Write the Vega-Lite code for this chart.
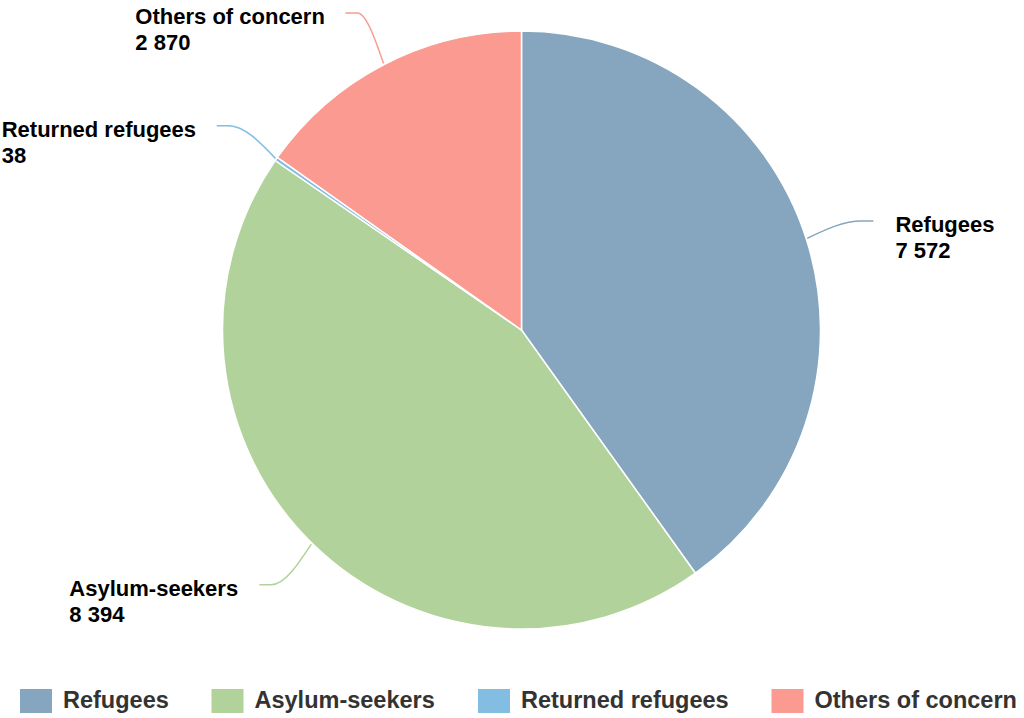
{
  "$schema": "https://vega.github.io/schema/vega-lite/v6.json",
  "width": 1005,
  "height": 660,
  "autosize": {"type": "none"},
  "padding": {"left": 19, "top": 0, "right": 0, "bottom": 58},
  "background": "white",
  "config": {"view": {"stroke": null}, "font": "Liberation Sans"},
  "data": {
    "values": [
      {"category": "Refugees", "value": 7572, "ord": 1},
      {"category": "Asylum-seekers", "value": 8394, "ord": 2},
      {"category": "Returned refugees", "value": 38, "ord": 3},
      {"category": "Others of concern", "value": 2870, "ord": 4}
    ]
  },
  "transform": [
    {"joinaggregate": [{"op": "sum", "field": "value", "as": "total"}]},
    {"window": [{"op": "sum", "field": "value", "as": "cum"}], "sort": [{"field": "ord"}], "frame": [null, 0]},
    {"calculate": "PI * (2 * datum.cum - datum.value) / datum.total", "as": "mid"},
    {"calculate": "sin(datum.mid) > 0 ? 1 : -1", "as": "side"},
    {"calculate": "357 * sin(datum.mid) + 12 * datum.side", "as": "lx"},
    {"calculate": "357 * cos(datum.mid)", "as": "ly"},
    {"calculate": "[datum.category, replace(format(datum.value, ','), ',', ' ')]", "as": "lbl"}
  ],
  "layer": [
    {
      "mark": {"type": "arc", "radius": 299, "stroke": "white", "strokeWidth": 1.5},
      "encoding": {
        "theta": {"field": "value", "type": "quantitative", "stack": true},
        "order": {"field": "ord", "type": "quantitative"},
        "color": {
          "field": "category",
          "type": "nominal",
          "scale": {
            "domain": ["Refugees", "Asylum-seekers", "Returned refugees", "Others of concern"],
            "range": ["#85A6BE", "#B1D29B", "#83BDE1", "#FA9A90"]
          },
          "legend": {
            "title": null,
            "orient": "none",
            "legendX": 1,
            "legendY": 685,
            "direction": "horizontal",
            "columns": 4,
            "symbolType": "M-1,-0.75H1V0.75H-1Z",
            "symbolSize": 1024,
            "symbolStrokeWidth": 0,
            "symbolOpacity": 1,
            "labelFontSize": 23.5,
            "labelFontWeight": "bold",
            "labelColor": "#333333",
            "labelFont": "Liberation Sans",
            "labelOffset": 11,
            "labelLimit": 400,
            "columnPadding": 42.5,
            "padding": 0
          }
        }
      }
    },
    {
      "transform": [
        {"calculate": "[0, 1, 2]", "as": "pt"},
        {"flatten": ["pt"]},
        {"calculate": "datum.pt == 0 ? 300 * sin(datum.mid) : (datum.pt == 1 ? 357 * sin(datum.mid) : datum.lx)", "as": "px"},
        {"calculate": "datum.pt == 0 ? 300 * cos(datum.mid) : (datum.pt == 1 ? 357 * cos(datum.mid) : datum.ly)", "as": "py"}
      ],
      "mark": {"type": "line", "interpolate": "monotone", "strokeWidth": 1.5},
      "encoding": {
        "x": {"field": "px", "type": "quantitative", "scale": {"domain": [-502.5, 502.5], "nice": false, "zero": false}, "axis": null},
        "y": {"field": "py", "type": "quantitative", "scale": {"domain": [-330, 330], "nice": false, "zero": false}, "axis": null},
        "stroke": {
          "field": "category",
          "type": "nominal",
          "scale": {
            "domain": ["Refugees", "Asylum-seekers", "Returned refugees", "Others of concern"],
            "range": ["#85A6BE", "#B1D29B", "#83BDE1", "#FA9A90"]
          },
          "legend": null
        }
      }
    },
    {
      "transform": [{"filter": "datum.side > 0"}],
      "mark": {"type": "text", "align": "left", "baseline": "alphabetic", "dx": 22, "dy": 11, "fontSize": 22, "fontWeight": "bold", "lineHeight": 26, "color": "#000000", "font": "Liberation Sans"},
      "encoding": {
        "x": {"field": "lx", "type": "quantitative", "scale": {"domain": [-502.5, 502.5], "nice": false, "zero": false}, "axis": null},
        "y": {"field": "ly", "type": "quantitative", "scale": {"domain": [-330, 330], "nice": false, "zero": false}, "axis": null},
        "text": {"field": "lbl"}
      }
    },
    {
      "transform": [{"filter": "datum.ord == 2"}],
      "mark": {"type": "text", "align": "left", "baseline": "alphabetic", "dx": -190, "dy": 11, "fontSize": 22, "fontWeight": "bold", "lineHeight": 26, "color": "#000000", "font": "Liberation Sans"},
      "encoding": {
        "x": {"field": "lx", "type": "quantitative", "scale": {"domain": [-502.5, 502.5], "nice": false, "zero": false}, "axis": null},
        "y": {"field": "ly", "type": "quantitative", "scale": {"domain": [-330, 330], "nice": false, "zero": false}, "axis": null},
        "text": {"field": "lbl"}
      }
    },
    {
      "transform": [{"filter": "datum.ord == 3"}],
      "mark": {"type": "text", "align": "left", "baseline": "alphabetic", "dx": -215, "dy": 11, "fontSize": 22, "fontWeight": "bold", "lineHeight": 26, "color": "#000000", "font": "Liberation Sans"},
      "encoding": {
        "x": {"field": "lx", "type": "quantitative", "scale": {"domain": [-502.5, 502.5], "nice": false, "zero": false}, "axis": null},
        "y": {"field": "ly", "type": "quantitative", "scale": {"domain": [-330, 330], "nice": false, "zero": false}, "axis": null},
        "text": {"field": "lbl"}
      }
    },
    {
      "transform": [{"filter": "datum.ord == 4"}],
      "mark": {"type": "text", "align": "left", "baseline": "alphabetic", "dx": -210, "dy": 11, "fontSize": 22, "fontWeight": "bold", "lineHeight": 26, "color": "#000000", "font": "Liberation Sans"},
      "encoding": {
        "x": {"field": "lx", "type": "quantitative", "scale": {"domain": [-502.5, 502.5], "nice": false, "zero": false}, "axis": null},
        "y": {"field": "ly", "type": "quantitative", "scale": {"domain": [-330, 330], "nice": false, "zero": false}, "axis": null},
        "text": {"field": "lbl"}
      }
    }
  ]
}
